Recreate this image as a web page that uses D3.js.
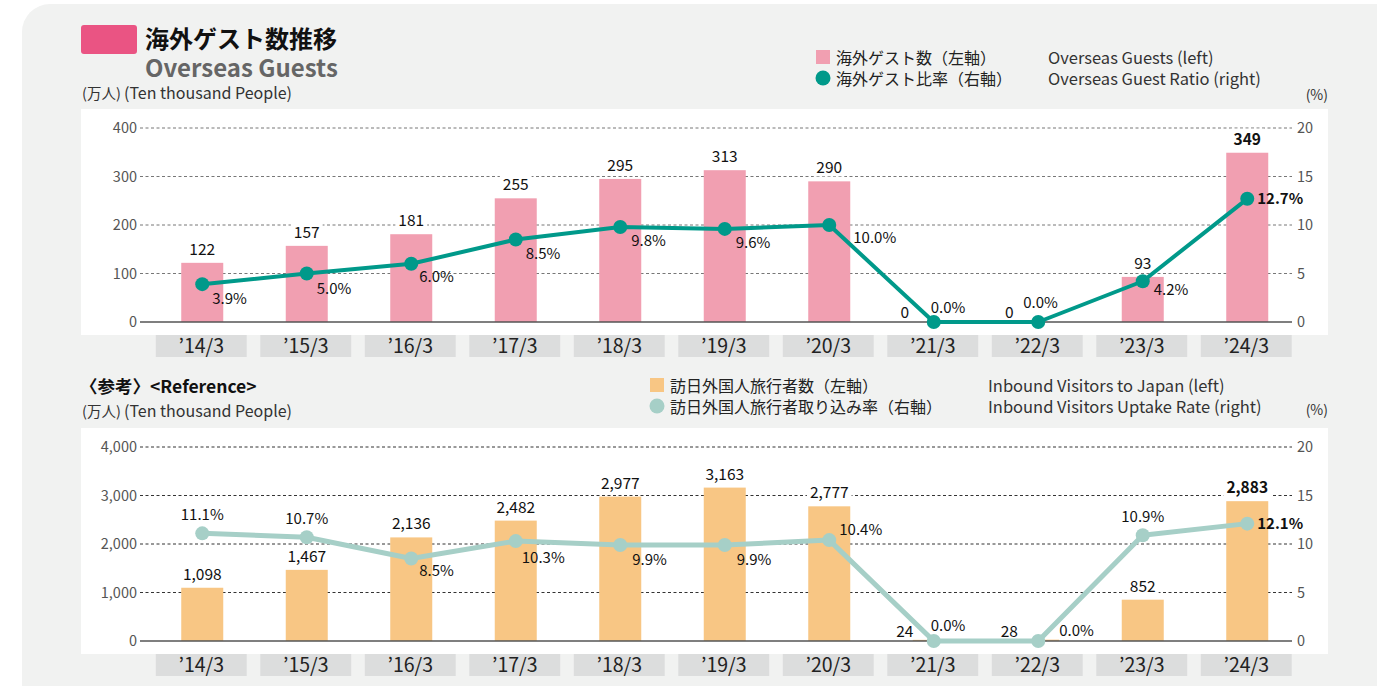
<!DOCTYPE html>
<html>
<head>
<meta charset="utf-8">
<script src="https://cdn.jsdelivr.net/npm/d3@7"></script>
<style>
body { margin: 0; background: #fff; }
svg text { font-family: "Noto Sans CJK JP", "Noto Sans", sans-serif; }
</style>
</head>
<body>
<svg id="chart" width="1377" height="686"></svg>
<script>
// data
var categories = ["’14/3", "’15/3", "’16/3", "’17/3", "’18/3", "’19/3", "’20/3", "’21/3", "’22/3", "’23/3", "’24/3"];
var guests = [122, 157, 181, 255, 295, 313, 290, 0, 0, 93, 349];
var guestRatio = [3.9, 5.0, 6.0, 8.5, 9.8, 9.6, 10.0, 0.0, 0.0, 4.2, 12.7];
var visitors = [1098, 1467, 2136, 2482, 2977, 3163, 2777, 24, 28, 852, 2883];
var visitorRate = [11.1, 10.7, 8.5, 10.3, 9.9, 9.9, 10.4, 0.0, 0.0, 10.9, 12.1];
var guestTicks = [0, 100, 200, 300, 400];
var visitorTicks = [0, 1000, 2000, 3000, 4000];
var rateTicks = [0, 5, 10, 15, 20];

// where each % label sits next to its dot [dx, dy, anchor]
var guestNudge = [[10,20],[10,20],[8,18],[10,19],[11,19],[11,19],[24,18],[-3,-9],[-15,-14],[11,14],[10,5]];
var visitorNudge = [[0,-13,"middle"],[0,-13,"middle"],[8,17],[6,22],[12,20],[12,20],[10,-5],[-3,-10],[21,-5],[0,-13,"middle"],[10,5]];

var svg = d3.select("#chart");

// grey card
svg.append("rect")
    .attr("x", 22).attr("y", 4)
    .attr("width", 1420).attr("height", 720)
    .attr("rx", 28)
    .attr("fill", "#f1f2f1");

// titles
svg.append("rect")
    .attr("x", 81).attr("y", 25).attr("width", 56).attr("height", 29)
    .attr("rx", 3).attr("fill", "#ea5483");
svg.append("text").attr("x", 145).attr("y", 48)
    .attr("font-size", 24).attr("font-weight", 700).attr("fill", "#111")
    .text("海外ゲスト数推移");
svg.append("text").attr("x", 145).attr("y", 77)
    .attr("font-size", 24).attr("font-weight", 700).attr("fill", "#666")
    .text("Overseas Guests");
svg.append("text").attr("x", 80).attr("y", 393)
    .attr("font-size", 17.5).attr("font-weight", 700).attr("fill", "#111")
    .text("〈参考〉<Reference>");

var x = d3.scaleBand()
    .domain(categories)
    .range([149, 1298.5])
    .paddingInner(0.13)
    .paddingOuter(0.065);

var fmt = d3.format(",");

function drawPanel(opt) {
    var g = svg.append("g").attr("transform", "translate(0," + opt.shift + ")");

    var unit = g.append("text").attr("x", 82).attr("y", opt.unitY)
        .attr("fill", "#333");
    unit.append("tspan").attr("font-size", 14.5).text("(万人) ");
    unit.append("tspan").attr("font-size", 16).text("(Ten thousand People)");

    // legend
    g.append("rect").attr("x", opt.legX).attr("y", opt.legY - 14)
        .attr("width", 14).attr("height", 14).attr("fill", opt.barColor);
    g.append("circle").attr("cx", opt.legX + 7).attr("cy", opt.legY + 14)
        .attr("r", 7.5).attr("fill", opt.lineColor);
    g.append("text").attr("x", opt.legX + 20).attr("y", opt.legY)
        .attr("font-size", 16).attr("fill", "#222").text(opt.legJp[0]);
    g.append("text").attr("x", opt.legX + 20).attr("y", opt.legY + 21)
        .attr("font-size", 16).attr("fill", "#222").text(opt.legJp[1]);
    g.append("text").attr("x", opt.legEnX).attr("y", opt.legY)
        .attr("font-size", 16.5).attr("fill", "#333").text(opt.legEn[0]);
    g.append("text").attr("x", opt.legEnX).attr("y", opt.legY + 21)
        .attr("font-size", 16.5).attr("fill", "#333").text(opt.legEn[1]);
    g.append("text").attr("x", 1328).attr("y", opt.pctY)
        .attr("text-anchor", "end").attr("font-size", 14).attr("fill", "#333")
        .text("(%)");

    // white plot area
    g.append("rect").attr("x", 81).attr("y", 109)
        .attr("width", 1247).attr("height", 226).attr("fill", "#fff");

    var y = d3.scaleLinear().domain([0, opt.ticks[opt.ticks.length - 1]]).range([322, 128]);
    var y2 = d3.scaleLinear().domain([0, 20]).range([322, 128]);

    // grid
    g.selectAll(".grid").data(opt.ticks.slice(1)).enter().append("line")
        .attr("x1", 140).attr("x2", 1292)
        .attr("y1", y).attr("y2", y)
        .attr("stroke", opt.gridColor).attr("stroke-width", 1)
        .attr("stroke-dasharray", "3,2.5");

    // axes labels
    var yAxis = g.append("g").attr("transform", "translate(140,0)")
        .call(d3.axisLeft(y).tickValues(opt.ticks).tickFormat(opt.tickFmt).tickSize(0).tickPadding(3));
    var yAxis2 = g.append("g").attr("transform", "translate(1292,0)")
        .call(d3.axisRight(y2).tickValues(rateTicks).tickSize(0).tickPadding(5));
    [yAxis, yAxis2].forEach(function(a) {
        a.select(".domain").remove();
        a.selectAll("text").attr("font-size", 14.5).attr("fill", "#555")
            .style("font-family", "\"Noto Sans CJK JP\", sans-serif");
    });

    // category boxes
    var cat = g.selectAll(".cat").data(categories).enter().append("g");
    cat.append("rect")
        .attr("x", function(d) { return x(d); })
        .attr("y", 335)
        .attr("width", x.bandwidth())
        .attr("height", 22)
        .attr("fill", "#dcdddd");
    cat.append("text")
        .attr("x", function(d) { return x(d) + x.bandwidth() / 2; })
        .attr("y", 353)
        .attr("text-anchor", "middle")
        .attr("font-size", 19.5).attr("fill", "#222")
        .text(function(d) { return d; });

    var cx = function(i) { return x(categories[i]) + x.bandwidth() / 2 + 1; };
    var barW = 42;

    // bars
    g.selectAll(".bar").data(opt.values).enter().append("rect")
        .attr("x", function(d, i) { return cx(i) - barW / 2; })
        .attr("y", function(d) { return y(d); })
        .attr("width", barW)
        .attr("height", function(d) { return y(0) - y(d); })
        .attr("fill", opt.barColor);

    // zero line
    g.append("line").attr("x1", 140).attr("x2", 1292)
        .attr("y1", y(0)).attr("y2", y(0))
        .attr("stroke", "#555").attr("stroke-width", 1.5);

    // value labels with white backing
    var last = opt.values.length - 1;
    opt.values.forEach(function(v, i) {
        var small = y(0) - y(v) < 10;
        var lx = small ? cx(i) - 29 : cx(i);
        var ly = small ? y(0) - 4 : y(v) - 8;
        var t = g.append("text")
            .attr("x", lx).attr("y", ly)
            .attr("text-anchor", "middle")
            .attr("font-size", 15.5)
            .attr("font-weight", i == last ? 700 : 400)
            .attr("fill", "#111")
            .text(fmt(v));
        if (!small) {
            var b = t.node().getBBox();
            g.insert("rect", function() { return t.node(); })
                .attr("x", b.x - 3).attr("y", b.y + 2)
                .attr("width", b.width + 6).attr("height", b.height - 3)
                .attr("fill", "#fff");
        }
    });

    // ratio line
    var line = d3.line()
        .x(function(d, i) { return cx(i); })
        .y(function(d) { return y2(d); });
    g.append("path").datum(opt.rates)
        .attr("d", line)
        .attr("fill", "none")
        .attr("stroke", opt.lineColor)
        .attr("stroke-width", opt.lineWidth)
        .attr("stroke-linejoin", "round");
    g.selectAll(".dot").data(opt.rates).enter().append("circle")
        .attr("cx", function(d, i) { return cx(i); })
        .attr("cy", function(d) { return y2(d); })
        .attr("r", 7)
        .attr("fill", opt.lineColor);

    g.selectAll(".pct").data(opt.rates).enter().append("text")
        .attr("x", function(d, i) { return cx(i) + opt.nudge[i][0]; })
        .attr("y", function(d, i) { return y2(d) + opt.nudge[i][1]; })
        .attr("text-anchor", function(d, i) { return opt.nudge[i][2] || "start"; })
        .attr("font-size", 15)
        .attr("font-weight", function(d, i) { return i == last ? 700 : 400; })
        .attr("fill", "#111")
        .text(function(d) { return d.toFixed(1) + "%"; });
}

drawPanel({
    shift: 0,
    values: guests,
    rates: guestRatio,
    ticks: guestTicks,
    tickFmt: d3.format("d"),
    barColor: "#f19fb1",
    lineColor: "#00998a",
    lineWidth: 4,
    gridColor: "#777",
    nudge: guestNudge,
    unitY: 99, pctY: 100,
    legX: 816, legY: 64, legEnX: 1048,
    legJp: ["海外ゲスト数（左軸）", "海外ゲスト比率（右軸）"],
    legEn: ["Overseas Guests (left)", "Overseas Guest Ratio (right)"]
});

drawPanel({
    shift: 319,
    values: visitors,
    rates: visitorRate,
    ticks: visitorTicks,
    tickFmt: d3.format(","),
    barColor: "#f8c684",
    lineColor: "#a6cfc7",
    lineWidth: 5,
    gridColor: "#333",
    nudge: visitorNudge,
    unitY: 98, pctY: 96,
    legX: 650, legY: 73, legEnX: 988,
    legJp: ["訪日外国人旅行者数（左軸）", "訪日外国人旅行者取り込み率（右軸）"],
    legEn: ["Inbound Visitors to Japan (left)", "Inbound Visitors Uptake Rate (right)"]
});
</script>
</body>
</html>
